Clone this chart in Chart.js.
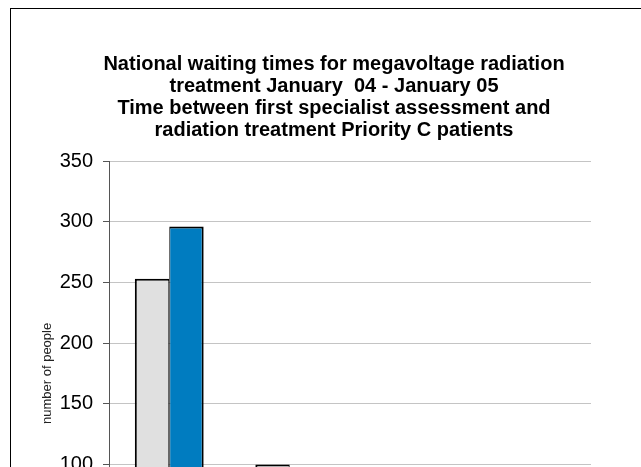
<!DOCTYPE html>
<html>
<head>
<meta charset="utf-8">
<script src="https://cdn.jsdelivr.net/npm/chart.js@4/dist/chart.umd.min.js"></script>
<style>
  html, body { margin: 0; padding: 0; background: #fff; overflow: hidden; }
  #page { position: relative; width: 641px; height: 467px; overflow: hidden; }
  #frame { position: absolute; left: 10px; top: 8px; width: 646px; height: 664px; border: 1px solid #000; }
</style>
</head>
<body>
<div id="page">
  <div id="frame"><canvas id="chart"></canvas></div>
</div>
<script>
// waiting time bands (bottom of chart, cropped off in the reference)
const categories = ['0-4 weeks', '4-6 weeks', '6-8 weeks', '> 8 weeks'];
const seriesNames = ['January 04', 'January 05'];
const jan04 = [253, 100, 40, 20];
const jan05 = [296, 60, 20, 6];
const yTicks = [0, 50, 100, 150, 200, 250, 300, 350];

const titleLines = [
  'National waiting times for megavoltage radiation',
  'treatment January  04 - January 05',
  'Time between first specialist assessment and',
  'radiation treatment Priority C patients'
];

const FONT = '"Liberation Sans", Arial, sans-serif';

document.addEventListener('DOMContentLoaded', () => {
  const ctx = document.getElementById('chart').getContext('2d');
  new Chart(ctx, {
    type: 'bar',
    data: {
      labels: categories,
      datasets: [{
        label: seriesNames[0],
        data: jan04,
        backgroundColor: '#e0e0e0',
        borderColor: '#000',
        borderWidth: { top: 2, left: 2, right: 1, bottom: 0 },
        borderSkipped: false
      }, {
        label: seriesNames[1],
        data: jan05,
        backgroundColor: '#007cc0',
        borderColor: '#000',
        borderWidth: { top: 2, left: 1, right: 2, bottom: 0 },
        borderSkipped: false
      }]
    },
    options: {
      responsive: true,
      maintainAspectRatio: false,
      animation: false,
      categoryPercentage: 0.5714,
      barPercentage: 1,
      layout: { padding: { top: 44, left: 0, right: 0, bottom: 20 } },
      plugins: {
        title: {
          display: true,
          text: titleLines,
          color: '#000',
          font: { family: FONT, size: 20, weight: 'bold', lineHeight: 1.1 },
          padding: { top: 0, bottom: 20 }
        },
        legend: {
          position: 'bottom',
          labels: { font: { family: FONT, size: 14 }, color: '#000', boxWidth: 14, boxHeight: 14 }
        },
        tooltip: { enabled: false }
      },
      scales: {
        x: {
          grid: { display: false },
          border: { color: '#000' },
          ticks: { font: { family: FONT, size: 16 }, color: '#000' }
        },
        y: {
          min: 0,
          max: 350,
          afterBuildTicks: (scale) => { scale.ticks = yTicks.map(v => ({ value: v })); },
          afterFit: (scale) => { scale.width = 98; },
          grid: { color: '#c4c4c4', tickColor: '#555', tickLength: 6 },
          border: { color: '#555' },
          ticks: { font: { family: FONT, size: 20 }, color: '#000', padding: 10 },
          title: {
            display: true,
            text: 'number of people',
            color: '#222',
            font: { family: FONT, size: 13 },
            padding: { top: 29, bottom: 4 }
          }
        },
        yRight: {
          position: 'right',
          display: true,
          grid: { display: false },
          border: { display: false },
          ticks: { display: false },
          afterFit: (scale) => { scale.width = 66; }
        }
      }
    }
  });
});
</script>
</body>
</html>
